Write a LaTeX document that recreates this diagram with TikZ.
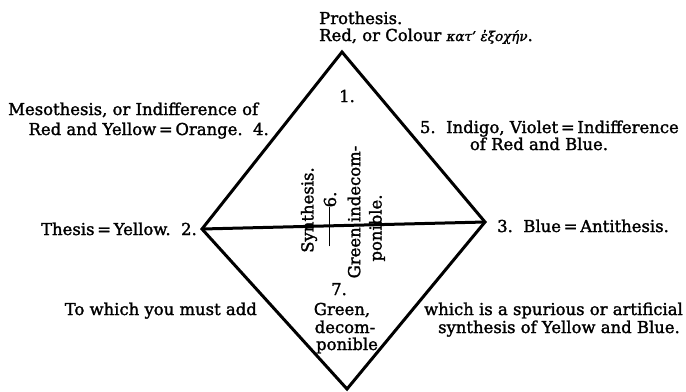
\documentclass[tikz,border=0pt]{standalone}
\usepackage{fontspec}
\setmainfont{DejaVu Serif}[FakeBold=1.6]
\newcommand\fsz{\fontsize{16.5}{19}\selectfont}
\begin{document}
\begin{tikzpicture}[x=1bp,y=-1bp,
  edge/.style={line width=3bp, line join=miter},
  lbl/.style={inner sep=0pt, font=\fsz},
  vlbl/.style={lbl, rotate=90}]
\useasboundingbox (0,0) rectangle (686,391);
\coordinate (T) at (342,52);
\coordinate (L) at (202,229);
\coordinate (R) at (485,222);
\coordinate (B) at (347,389);
\draw[edge] (L) -- (T) -- (R) -- (B) -- cycle;
\draw[edge] (L) -- (R);

\node[lbl, anchor=base west] (proth) at (319,24) {Prothesis.};
\node[lbl, anchor=base west] (red) at (319,41) {Red, or Colour {\itshape\fontsize{13.5}{19}\selectfont κατ’ ἐξοχήν}.};
\node[lbl, anchor=base] (one) at (347,102) {1.};
\node[lbl, anchor=base west] (meso1) at (8,115) {Mesothesis, or Indifference of};
\node[lbl, anchor=base east] (meso2) at (269,135) {Red and Yellow\,=\,Orange.\ \ 4.};
\node[lbl, anchor=base east] (indigo1) at (679,133) {5.\ \ Indigo, Violet\,=\,Indifference};
\node[lbl, anchor=base] (indigo2) at (539,150) {of Red and Blue.};
\node[lbl, anchor=base east] (thesis) at (197,235) {Thesis\,=\,Yellow.\ \ 2.};
\node[lbl, anchor=base west] (anti) at (497,232) {3.\ \ Blue\,=\,Antithesis.};
\node[lbl, anchor=base east] (add) at (257,315) {To which you must add};
\node[lbl, anchor=base] (seven) at (339,295) {7.};
\node[lbl, anchor=base] (green) at (342,315) {Green,};
\node[lbl, anchor=base] (decom) at (345,333) {decom-};
\node[lbl, anchor=base] (ponib) at (347,350) {ponible};
\node[lbl, anchor=base east] (spur1) at (683,315) {which is a spurious or artificial};
\node[lbl, anchor=base east] (spur2) at (680,333) {synthesis of Yellow and Blue.};

\node[vlbl] (synth) at (309,210) {Synthesis.};
\node[vlbl] (six) at (330,219) {\rule[0.35em]{39bp}{0.8bp}6.};
\node[vlbl] (gind) at (354,212) {Green indecom-};
\node[vlbl] (ponr) at (377,228) {ponible.};
\end{tikzpicture}
\end{document}
